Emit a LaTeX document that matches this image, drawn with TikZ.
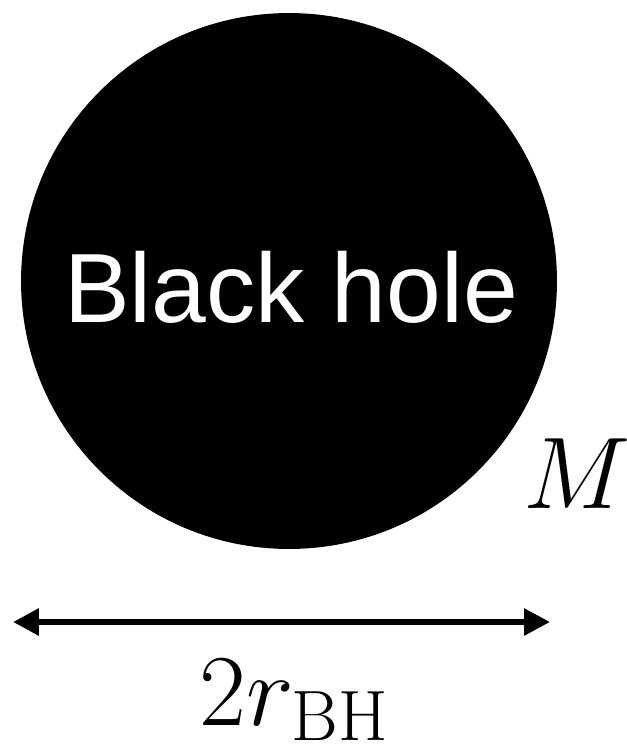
\documentclass[tikz,border=0pt]{standalone}
\usepackage{fix-cm}
\usepackage{fontspec}
\newfontfamily\holefont{Liberation Sans}
\usetikzlibrary{arrows.meta}
\begin{document}
\begin{tikzpicture}[x=0.02cm,y=-0.02cm]
	\tikzset{every node/.style={inner sep=0pt},
		hole/.style={circle,fill=black,minimum size=10.72cm},
		holetext/.style={text=white,font=\holefont\fontsize{56}{60}\selectfont},
		mathlabel/.style={anchor=base,font=\fontsize{58}{60}\selectfont},
		bhtip/.tip={Triangle[length=0.52cm,width=0.52cm]}}
	\useasboundingbox (0,0) rectangle (626,753);
	\node [hole] (bh) at (289,281) {};
	\node [holetext] (name) at (291,287) {Black hole};
	\node [mathlabel] (mass) at (577,508) {$M$};
	\coordinate (left) at (13,622);
	\coordinate (right) at (550,622);
	\draw [line width=0.12cm,bhtip-bhtip] (left) -- (right);
	\node [mathlabel] (size) at (294,725) {$2r_{\mathrm{BH}}$};
\end{tikzpicture}
\end{document}
